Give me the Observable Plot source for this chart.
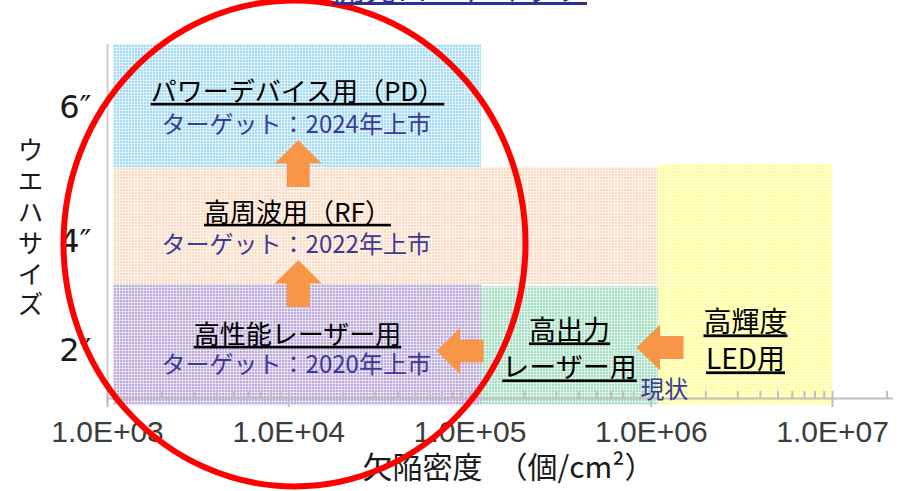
<!DOCTYPE html>
<html><head><meta charset="utf-8">
<script src="https://cdn.jsdelivr.net/npm/d3@7"></script>
<script src="https://cdn.jsdelivr.net/npm/@observablehq/plot@0.6"></script>
<style>
html,body{margin:0;padding:0;background:#fff;overflow:hidden;width:905px;height:491px;}
#wrap{position:relative;width:905px;height:491px;overflow:hidden;}
#chart{position:absolute;left:0;top:0;}
#title{position:absolute;left:333px;top:-30px;font-family:'Noto Sans CJK JP',sans-serif;font-size:31.75px;line-height:32px;color:#2e3192;text-decoration:underline;white-space:nowrap;}
</style></head><body>
<div id="wrap"><div id="chart"></div><div id="title">開発ロードマップ</div></div>
<script>
// ---- data ----
const regionNames = ["高周波用", "パワーデバイス用", "高性能レーザー用", "高出力レーザー用", "高輝度LED用"];
const regionX1 = [1.08e3, 1.08e3, 1.08e3, 1.157e5, 1.096e6];
const regionX2 = [1.096e6, 1.157e5, 1.157e5, 1.096e6, 1e7];
const regionY1 = [0.966, 1.958, -0.06, -0.06, -0.06];
const regionY2 = [1.958, 3, 0.966, 0.949, 1.983];

const headings = ["パワーデバイス用（PD）", "高周波用（RF）", "高性能レーザー用", "高出力\nレーザー用", "高輝度\nLED用"];
const headingX = [1.117e4, 1.117e4, 1.117e4, 3.54e5, 3.31e6];
const headingY = [2.593, 1.568, 0.534, 0.436, 0.504];

const targets = ["ターゲット：2024年上市", "ターゲット：2022年上市", "ターゲット：2020年上市", "現状"];
const targetX = [1.1e4, 1.1e4, 1.1e4, 1.18e6];
const targetY = [2.314, 1.297, 0.28, 0.068];

const arrowDir = ["up", "up", "left", "left"];
const arrowX = [1.128e4, 1.128e4, 8.81e4, 1.118e6];
const arrowY = [1.992, 0.975, 0.403, 0.432];

const highlightX = [1.076e4];
const highlightY = [1.314];

const xTickValues = [1e3, 1e4, 1e5, 1e6, 1e7];
const xTickLabels = ["1.0E+03", "1.0E+04", "1.0E+05", "1.0E+06", "1.0E+07"];
const yTickLabels = ["2″", "4″", "6″"];
const yTickPos = [0.407, 1.325, 2.466];
const xDomain = [1e3, 2.17e7];
const xTitle = "欠陥密度　（個/cm²）";
const yTitle = "ウエハサイズ";

// ---- styles ----
const regionColors = ["#fcdcc4", "#a3dcf4", "#bcabdc", "#a3e0c1", "#ffff94"];
const axisColor = "#bfbfbf";
const orange = "#f79646";
const navy = "#3b3b98";

// ---- tables ----
const regions = regionNames.map((n, i) => ({n, i, x1: regionX1[i], x2: regionX2[i], y1: regionY1[i], y2: regionY2[i]}));
const heads = headings.map((t, i) => ({t, i, x: headingX[i], y: headingY[i]}));
const tgts = targets.map((t, i) => ({t, i, x: targetX[i], y: targetY[i]}));
const arrows = arrowDir.map((d, i) => ({d, x: arrowX[i], y: arrowY[i]}));
const xt = xTickValues.map((v, i) => ({v, label: xTickLabels[i]}));
const yt = yTickLabels.map((l, i) => ({label: l, y: yTickPos[i]}));
const minors = d3.scaleLog().domain(xDomain).ticks().filter(v => !xTickValues.some(m => Math.abs(m - v) / m < 1e-9));

const upArrow = {draw(c) {
  c.moveTo(0, -23.5); c.lineTo(23.5, 0); c.lineTo(11.5, 0); c.lineTo(11.5, 23.5);
  c.lineTo(-11.5, 23.5); c.lineTo(-11.5, 0); c.lineTo(-23.5, 0); c.closePath();
}};
const leftArrow = {draw(c) {
  c.moveTo(-23.5, 0); c.lineTo(0, -23); c.lineTo(0, -11.5); c.lineTo(23.5, -11.5);
  c.lineTo(23.5, 11.5); c.lineTo(0, 11.5); c.lineTo(0, 23); c.closePath();
}};
const ellipseSym = {draw(c) {
  const rx = 231, ry = 243, k = 0.5523;
  c.moveTo(rx, 0);
  c.bezierCurveTo(rx, k * ry, k * rx, ry, 0, ry);
  c.bezierCurveTo(-k * rx, ry, -rx, k * ry, -rx, 0);
  c.bezierCurveTo(-rx, -k * ry, -k * rx, -ry, 0, -ry);
  c.bezierCurveTo(k * rx, -ry, rx, -k * ry, rx, 0);
  c.closePath();
}};

const jp = "'Noto Sans CJK JP', sans-serif";
const svg = Plot.plot({
  width: 905, height: 491,
  marginLeft: 107, marginRight: 12, marginTop: 44, marginBottom: 93,
  x: {type: "log", domain: xDomain, axis: null},
  y: {domain: [0, 3], axis: null},
  color: {type: "identity"},
  style: {fontFamily: jp, background: "transparent"},
  marks: [
    Plot.rect(regions, {x1: "x1", x2: "x2", y1: "y1", y2: "y2", fill: d => `url(#pat${d.i})`}),
    Plot.ruleY([0], {stroke: axisColor, strokeWidth: 2}),
    Plot.ruleX([xDomain[0]], {y1: -0.06, y2: 3, stroke: "#d0d0d0", strokeWidth: 2}),
    Plot.ruleX(minors, {y1: 0, y2: 0.06, stroke: axisColor, strokeWidth: 2}),
    Plot.ruleX(xTickValues, {y1: -0.076, y2: 0.06, stroke: axisColor, strokeWidth: 2}),
    Plot.text(xt, {x: "v", text: "label", frameAnchor: "bottom", lineAnchor: "middle", dy: 34, fontSize: 30, fontFamily: "'Liberation Sans', Arial, sans-serif", fill: "#3c3c3c"}),
    Plot.text(yt, {y: "y", text: "label", frameAnchor: "left", textAnchor: "end", lineAnchor: "middle", dx: -16, fontSize: 32, fontFamily: "'DejaVu Sans', sans-serif", fill: "#1a1a1a"}),
    Plot.text([xTitle], {frameAnchor: "bottom", lineAnchor: "middle", dy: 70, dx: 8, fontSize: 30, fill: "#1a1a1a"}),
    Plot.text([yTitle], {frameAnchor: "left", lineAnchor: "middle", dx: -77, fontSize: 26, fill: "#1a1a1a"}),
    Plot.text(heads.filter(d => d.i < 3), {x: "x", y: "y", text: "t", fontSize: 26, fill: "#000"}),
    Plot.text(heads.filter(d => d.i === 3), {x: "x", y: "y", text: "t", fontSize: 27, lineHeight: 1.37, fill: "#000"}),
    Plot.text(heads.filter(d => d.i === 4), {x: "x", y: "y", text: "t", fontSize: 28, lineHeight: 1.32, fill: "#000"}),
    Plot.text(tgts.filter(d => d.i < 3), {x: "x", y: "y", text: "t", fontSize: 24, fill: navy}),
    Plot.text(tgts.filter(d => d.i === 3), {x: "x", y: "y", text: "t", fontSize: 24, fill: navy}),
    Plot.dot(arrows.filter(d => d.d === "up"), {x: "x", y: "y", symbol: upArrow, r: 10, fill: orange, stroke: "none"}),
    Plot.dot(arrows.filter(d => d.d === "left"), {x: "x", y: "y", symbol: leftArrow, r: 10, fill: orange, stroke: "none"}),
    Plot.dot(highlightX.map((x, i) => ({x, y: highlightY[i]})), {x: "x", y: "y", symbol: ellipseSym, r: 10, fill: "none", stroke: "#ff0000", strokeWidth: 6})
  ]
});

// patterns for the textured fills
const ns = "http://www.w3.org/2000/svg";
const defs = document.createElementNS(ns, "defs");
regionColors.forEach((col, i) => {
  const p = document.createElementNS(ns, "pattern");
  p.setAttribute("id", "pat" + i);
  p.setAttribute("width", 3); p.setAttribute("height", 3);
  p.setAttribute("patternUnits", "userSpaceOnUse");
  const r = document.createElementNS(ns, "rect");
  r.setAttribute("width", 3); r.setAttribute("height", 3); r.setAttribute("fill", col);
  const l = document.createElementNS(ns, "path");
  l.setAttribute("d", "M0 2.5H3M2.5 0V3");
  l.setAttribute("stroke", "#fff"); l.setAttribute("stroke-width", 1); l.setAttribute("stroke-opacity", 0.6);
  p.appendChild(r); p.appendChild(l); defs.appendChild(p);
});
svg.insertBefore(defs, svg.firstChild);

// underline the headings; set the axis title vertical
const headSet = new Set(headings.map(s => s.replace(/\n/g, "")));
svg.querySelectorAll("text").forEach(t => {
  if (headSet.has(t.textContent)) {
    t.style.textDecoration = "underline";
    t.style.textDecorationThickness = "2px";
  }
  if (t.textContent === yTitle) {
    t.removeAttribute("dy");
    t.style.writingMode = "vertical-rl";
    t.style.letterSpacing = "4.8px";
    t.setAttribute("text-anchor", "middle");
  }
});
document.getElementById("chart").appendChild(svg);
</script>
</body></html>
